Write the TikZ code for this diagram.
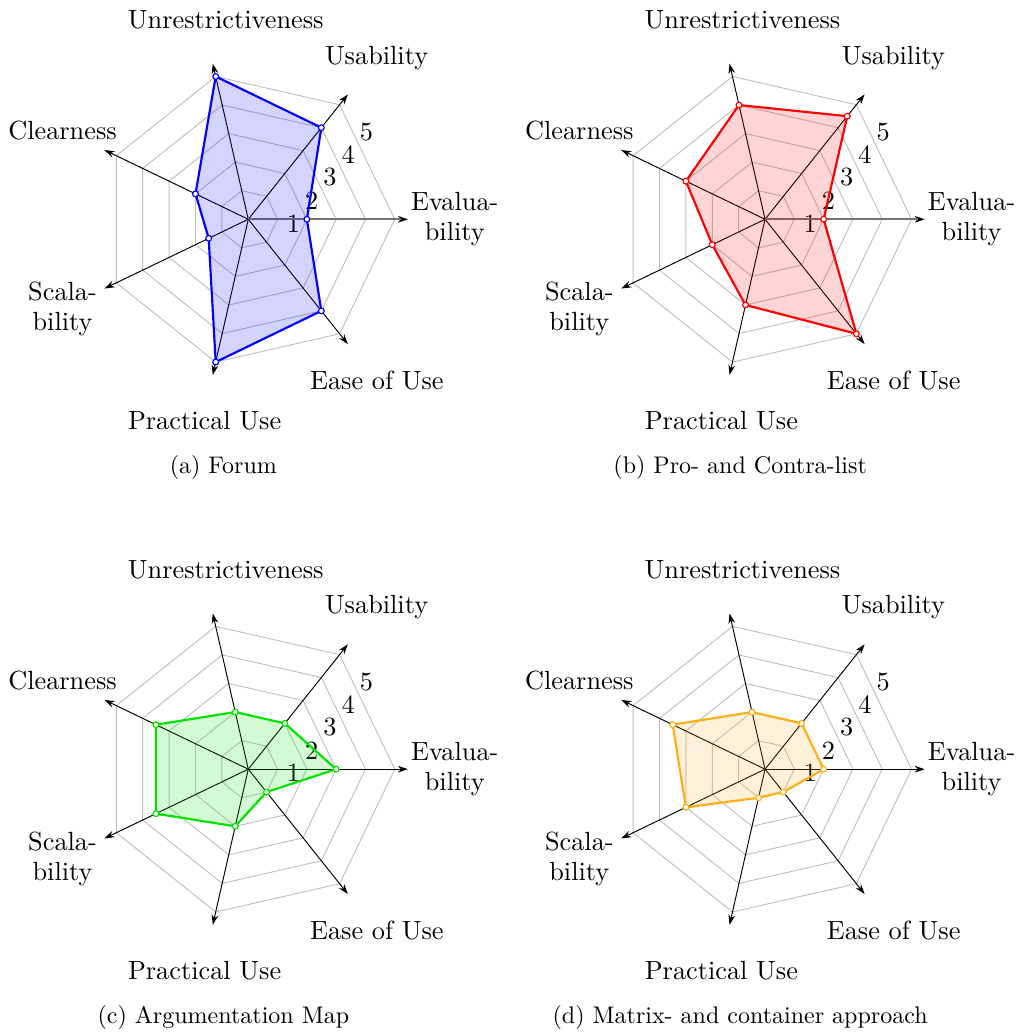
\documentclass[tikz,border=0pt]{standalone}
\usepackage{tikz}
\usetikzlibrary{arrows.meta}
\definecolor{forumblue}{HTML}{0000FF}
\definecolor{prored}{HTML}{FF0000}
\definecolor{mapgreen}{HTML}{00E400}
\definecolor{matrixorange}{HTML}{FFAE1A}
\definecolor{ringgray}{HTML}{BFBFBF}

\begin{document}
\begin{tikzpicture}[
    x=12.2pt, y=12.2pt,
    every node/.style={font=\fontsize{10.95}{12.5}\selectfont, inner sep=0pt},
    ring/.style={draw=ringgray, line width=0.4pt},
    axis/.style={-{Stealth[length=4.2pt,width=2.8pt]}, line width=0.4pt},
    evalaxis/.style={draw=black!55, line width=0.8pt, shorten >=3pt},
    tick/.style={xshift=11.2pt, yshift=-11.2pt},
    caption/.style={anchor=base, font=\fontsize{10}{12}\selectfont},
    dataline/.style={draw=#1, fill=#1, fill opacity=0.17, line width=0.9pt, line join=round},
    dot/.style={circle, draw=#1, fill=white, line width=0.5pt, minimum size=2.4pt, inner sep=0pt}
]
    \useasboundingbox (-8.475,-27.81) rectangle (26.27,7.485);

    % === GRID, AXES AND LABELS (same for all four charts) ===
    \foreach \ch/\cx/\cy in {a/0/0, b/17.64/0, c/0/-18.77, d/17.64/-18.77} {
        \begin{scope}[shift={(\cx,\cy)}]
            % rings 1..5
            \foreach \r in {1,...,5}
                \draw[ring] (0:\r) \foreach \i in {1,...,6} { -- (\i*360/7:\r) } -- cycle;
            % axes
            \coordinate (\ch-o) at (0,0);
            \foreach \i in {0,...,6} {
                \coordinate (\ch-tip\i) at (\i*360/7:5.45);
                \draw[axis] (\ch-o) -- (\ch-tip\i);
            }
            % scale
            \foreach \k in {1,...,5}
                \node[tick] (\ch-tick\k) at (360/7:\k) {\k};
            % axis labels
            \node[anchor=base] (\ch-unres) at (-0.77,6.52) {Unrestrictiveness};
            \node[anchor=base] (\ch-usab) at (4.38,5.30) {Usability};
            \node[anchor=base] (\ch-clear) at (-6.34,2.73) {Clearness};
            \node[align=center] (\ch-eval) at (7.05,0) {Evalua-\\bility};
            \node[align=center] (\ch-scal) at (-6.34,-3.05) {Scala-\\bility};
            \node[anchor=base] (\ch-ease) at (4.39,-5.80) {Ease of Use};
            \node[anchor=base] (\ch-pract) at (-1.49,-7.17) {Practical Use};
        \end{scope}
    }

    % === (a) FORUM ===
    \draw[evalaxis] (a-o) -- (a-tip0);
    \begin{scope}[shift={(a-o)}]
        \foreach \v [count=\i from 0] in {2,4,5,2,1.5,5,4}
            \coordinate (a\i) at (\i*360/7:\v);
        \draw[dataline=forumblue] (a0) -- (a1) -- (a2) -- (a3) -- (a4) -- (a5) -- (a6) -- cycle;
        \foreach \i in {0,...,6}
            \node[dot=forumblue] (ma\i) at (a\i) {};
        \node[caption] (a-cap) at (-0.85,-8.67) {(a) Forum};
    \end{scope}

    % === (b) PRO- AND CONTRA-LIST ===
    \draw[evalaxis] (b-o) -- (b-tip0);
    \begin{scope}[shift={(b-o)}]
        \foreach \v [count=\i from 0] in {2,4.5,4,3,2,3,5}
            \coordinate (b\i) at (\i*360/7:\v);
        \draw[dataline=prored] (b0) -- (b1) -- (b2) -- (b3) -- (b4) -- (b5) -- (b6) -- cycle;
        \foreach \i in {0,...,6}
            \node[dot=prored] (mb\i) at (b\i) {};
        \node[caption] (b-cap) at (-0.85,-8.67) {(b) Pro- and Contra-list};
    \end{scope}

    % === (c) ARGUMENTATION MAP ===
    \begin{scope}[shift={(c-o)}]
        \foreach \v [count=\i from 0] in {3,2,2,3.5,3.5,2,1}
            \coordinate (c\i) at (\i*360/7:\v);
        \draw[dataline=mapgreen] (c0) -- (c1) -- (c2) -- (c3) -- (c4) -- (c5) -- (c6) -- cycle;
        \foreach \i in {0,...,6}
            \node[dot=mapgreen] (mc\i) at (c\i) {};
        \node[caption] (c-cap) at (-0.85,-8.67) {(c) Argumentation Map};
    \end{scope}

    % === (d) MATRIX- AND CONTAINER APPROACH ===
    \begin{scope}[shift={(d-o)}]
        \foreach \v [count=\i from 0] in {2,2,2,3.5,3,1,1}
            \coordinate (d\i) at (\i*360/7:\v);
        \draw[dataline=matrixorange] (d0) -- (d1) -- (d2) -- (d3) -- (d4) -- (d5) -- (d6) -- cycle;
        \foreach \i in {0,...,6}
            \node[dot=matrixorange] (md\i) at (d\i) {};
        \node[caption] (d-cap) at (-0.85,-8.67) {(d) Matrix- and container approach};
    \end{scope}
\end{tikzpicture}
\end{document}
